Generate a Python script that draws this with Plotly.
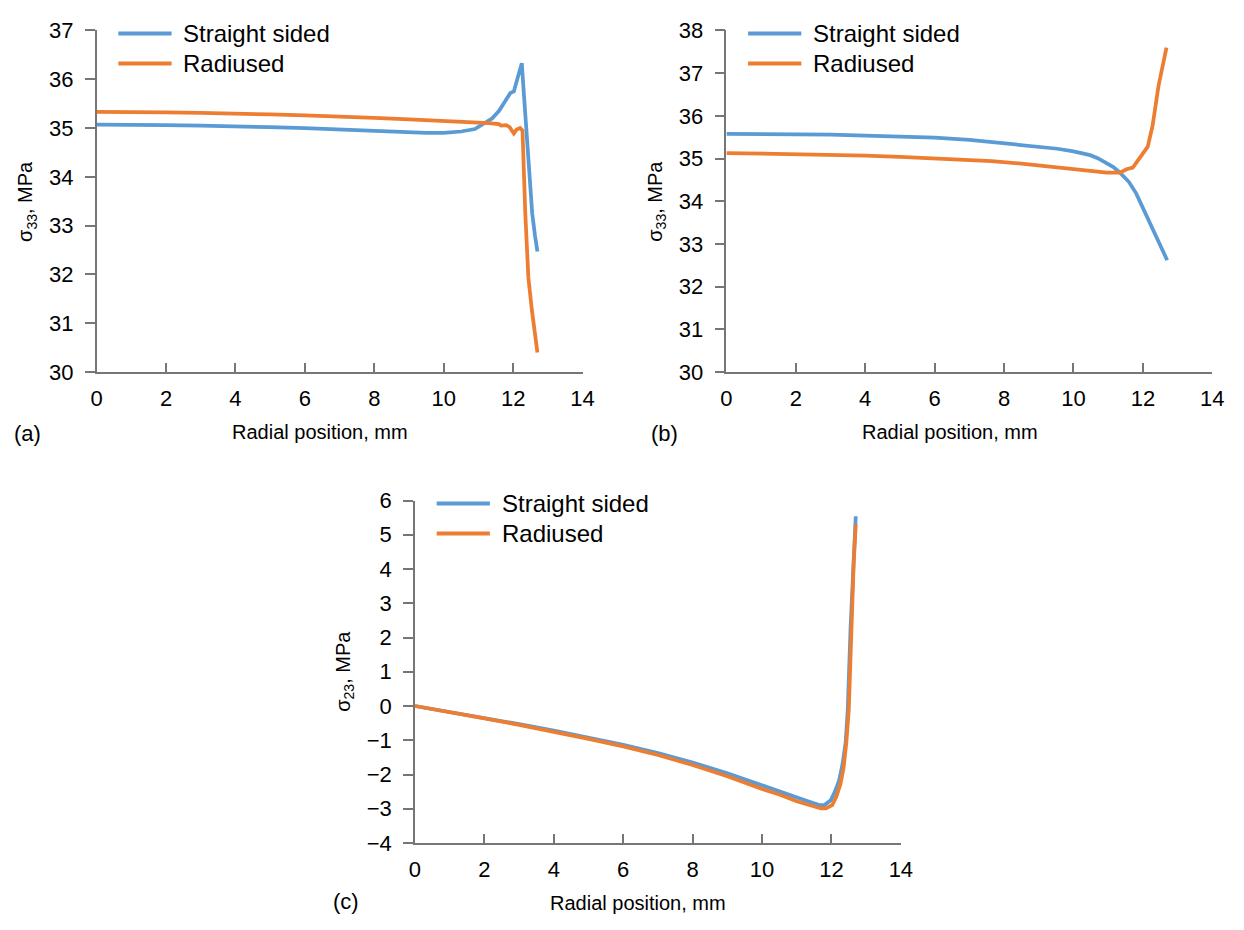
import plotly.graph_objects as go

# ---------------- data ----------------
series_names = ["Straight sided", "Radiused"]
x_title = "Radial position, mm"
y_title_a = "σ<sub>33</sub>, MPa"
y_title_b = "σ<sub>33</sub>, MPa"
y_title_c = "σ<sub>23</sub>, MPa"
panel_labels = ["(a)", "(b)", "(c)"]

# panel (a)
a_straight_x = [0, 1, 2, 3, 4, 5, 6, 7, 8, 9, 9.5, 10, 10.5, 10.9, 11.2, 11.4, 11.59, 11.75,
                11.92, 12.02, 12.15, 12.25, 12.3, 12.35, 12.45, 12.55, 12.63, 12.7]
a_straight_y = [35.07, 35.07, 35.06, 35.05, 35.04, 35.02, 35.0, 34.97, 34.94, 34.91, 34.9, 34.9,
                34.93, 34.98, 35.1, 35.2, 35.35, 35.52, 35.72, 35.75, 36.05, 36.33, 35.8, 35.25,
                34.25, 33.25, 32.8, 32.47]
a_radiused_x = [0, 1, 2, 3, 4, 5, 6, 7, 8, 9, 10, 10.5, 11, 11.3, 11.59, 11.65, 11.8, 11.9,
                12.02, 12.1, 12.2, 12.27, 12.35, 12.44, 12.54, 12.63, 12.7]
a_radiused_y = [35.33, 35.33, 35.32, 35.31, 35.3, 35.28, 35.26, 35.24, 35.21, 35.18, 35.15, 35.14,
                35.12, 35.1, 35.08, 35.05, 35.06, 35.02, 34.89, 34.97, 35.0, 34.95, 33.26, 31.93,
                31.27, 30.74, 30.4]

# panel (b)
b_straight_x = [0, 1, 2, 3, 4, 5, 6, 7, 7.64, 8.5, 9.0, 9.54, 10.0, 10.48, 10.7, 10.96, 11.15,
                11.34, 11.6, 11.81, 12.2, 12.7]
b_straight_y = [35.58, 35.58, 35.57, 35.56, 35.54, 35.52, 35.49, 35.44, 35.39, 35.32, 35.28,
                35.23, 35.17, 35.08, 35.01, 34.9, 34.8, 34.67, 34.45, 34.18, 33.5, 32.62]
b_radiused_x = [0, 1, 2, 3, 4, 5, 6, 7, 7.64, 8.5, 9.54, 10.0, 10.48, 10.96, 11.34, 11.53, 11.71,
                11.85, 12.0, 12.14, 12.28, 12.45, 12.68]
b_radiused_y = [35.13, 35.12, 35.11, 35.09, 35.07, 35.04, 35.01, 34.97, 34.94, 34.88, 34.79,
                34.75, 34.7, 34.67, 34.67, 34.75, 34.79, 34.95, 35.13, 35.28, 35.77, 36.7, 37.6]

# panel (c)
c_straight_x = [0, 1, 2, 3, 4, 5, 6, 7, 8, 9, 10, 10.5, 11, 11.3, 11.65, 11.8, 11.98, 12.1, 12.22,
                12.32, 12.41, 12.47, 12.55, 12.64, 12.7]
c_straight_y = [0, -0.17, -0.35, -0.53, -0.72, -0.92, -1.13, -1.37, -1.65, -1.96, -2.3, -2.47,
                -2.66, -2.77, -2.89, -2.89, -2.75, -2.5, -2.18, -1.7, -1.05, -0.1, 2.27, 4.16, 5.54]
c_radiused_x = [0, 1, 2, 3, 4, 5, 6, 7, 8, 9, 10, 10.5, 11, 11.3, 11.7, 11.84, 12.02, 12.14, 12.26,
                12.35, 12.43, 12.5, 12.57, 12.64, 12.7]
c_radiused_y = [0, -0.17, -0.36, -0.55, -0.75, -0.96, -1.18, -1.43, -1.72, -2.05, -2.42, -2.58,
                -2.78, -2.88, -2.99, -2.99, -2.89, -2.65, -2.28, -1.8, -1.05, -0.1, 2.27, 4.16, 5.3]

x_range = [0, 14]
a_y_range = [30, 37]
b_y_range = [30, 38]
c_y_range = [-4, 6]

# ---------------- styling ----------------
W, H = 1244, 930
BLUE = "#5B9BD5"
ORANGE = "#ED7D31"
AXIS = "#767676"
FONT = "Liberation Sans, Arial, sans-serif"
TICK_FS = 22
TITLE_FS = 20
LEG_FS = 24
LABEL_FS = 22

def px_x(p):
    return p / W

def px_y(p):
    return 1 - p / H

# panel boxes in pixels: (left, right, top, bottom)
boxes = {
    "a": (92, 585, 19, 370),
    "b": (731, 1224, 19, 370),
    "c": (415, 908, 502, 854),
}

fig = go.Figure()

panels = [
    ("a", "x", "y", a_straight_x, a_straight_y, a_radiused_x, a_radiused_y, a_y_range, y_title_a),
    ("b", "x2", "y2", b_straight_x, b_straight_y, b_radiused_x, b_radiused_y, b_y_range, y_title_b),
    ("c", "x3", "y3", c_straight_x, c_straight_y, c_radiused_x, c_radiused_y, c_y_range, y_title_c),
]

layout_axes = {}
annotations = []
shapes = []
for i, (key, xa, ya, sx, sy, rx, ry, yr, ytitle) in enumerate(panels):
    l, r, t, b = boxes[key]
    fig.add_trace(go.Scatter(x=sx, y=sy, mode="lines", name=series_names[0],
                             line=dict(color=BLUE, width=3.75), xaxis=xa, yaxis=ya,
                             showlegend=False))
    fig.add_trace(go.Scatter(x=rx, y=ry, mode="lines", name=series_names[1],
                             line=dict(color=ORANGE, width=3.75), xaxis=xa, yaxis=ya,
                             showlegend=False))
    suffix = "" if i == 0 else str(i + 1)
    layout_axes["xaxis" + suffix] = dict(
        domain=[px_x(l), px_x(r)], range=x_range, anchor=ya, dtick=2, tick0=0,
        showgrid=False, zeroline=False, showline=True, linecolor=AXIS, linewidth=1.5,
        ticks="inside", ticklen=9, tickwidth=1.5, tickcolor=AXIS,
        tickfont=dict(family=FONT, size=TICK_FS, color="#000"), ticklabelstandoff=6,
        fixedrange=True,
    )
    layout_axes["yaxis" + suffix] = dict(
        domain=[px_y(b), px_y(t)], range=yr, anchor=xa, dtick=1, tick0=0,
        showgrid=False, zeroline=False, showline=True, linecolor=AXIS, linewidth=1.5,
        ticks="outside", ticklen=10, tickwidth=1.5, tickcolor=AXIS,
        tickfont=dict(family=FONT, size=TICK_FS, color="#000"), ticklabelstandoff=7,
        fixedrange=True,
    )
    # axis titles
    annotations.append(dict(text=x_title, x=px_x((l + r) / 2 - 20), y=px_y(b + 62),
                            xref="paper", yref="paper", showarrow=False,
                            xanchor="center", yanchor="middle",
                            font=dict(family=FONT, size=TITLE_FS, color="#000")))
    annotations.append(dict(text=ytitle, x=px_x(l - 71), y=px_y((t + b) / 2),
                            xref="paper", yref="paper", showarrow=False, textangle=-90,
                            xanchor="center", yanchor="middle",
                            font=dict(family=FONT, size=TITLE_FS, color="#000")))
    # legend (drawn)
    for j, (nm, col) in enumerate(zip(series_names, [BLUE, ORANGE])):
        yy = t + 3 + 31 * j
        shapes.append(dict(type="line", xref="paper", yref="paper",
                           x0=px_x(l + 22), x1=px_x(l + 76), y0=px_y(yy), y1=px_y(yy),
                           line=dict(color=col, width=4)))
        annotations.append(dict(text=nm, x=px_x(l + 86), y=px_y(yy), xref="paper", yref="paper",
                                showarrow=False, xanchor="left", yanchor="middle",
                                font=dict(family=FONT, size=LEG_FS, color="#000")))

# panel labels
label_pos = [(22, 433), (668, 433), (345, 914)]
for lab, (lx, ly) in zip(panel_labels, label_pos):
    annotations.append(dict(text=lab, x=px_x(lx), y=px_y(ly), xref="paper", yref="paper",
                            showarrow=False, xanchor="center", yanchor="middle",
                            font=dict(family=FONT, size=LABEL_FS, color="#000")))

fig.update_layout(
    width=W, height=H, margin=dict(l=0, r=0, t=0, b=0),
    paper_bgcolor="white", plot_bgcolor="white",
    showlegend=False, annotations=annotations, shapes=shapes,
    **layout_axes,
)

fig.write_html("out.html", config={"displayModeBar": False})
